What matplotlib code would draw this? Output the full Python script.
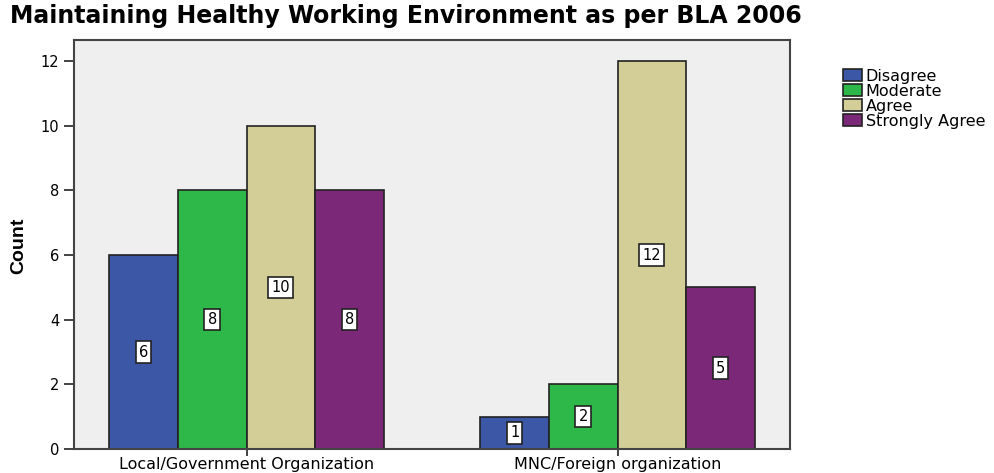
import numpy as np
import matplotlib.pyplot as plt
from matplotlib.patches import Patch

# Counts per organization type and response
groups = ["Local/Government Organization", "MNC/Foreign organization"]
responses = ["Disagree", "Moderate", "Agree", "Strongly Agree"]
disagree = [6, 1]
moderate = [8, 2]
agree = [10, 12]
strongly_agree = [8, 5]

colors = ["#3d57a7", "#2fb84a", "#d3ce98", "#7c2878"]

plt.rcParams['font.family'] = ['DejaVu Sans']

fig = plt.figure(figsize=(9.95, 4.73), dpi=100)
ax = fig.add_axes([0.0744, 0.0507, 0.7196, 0.8647])
ax.set_facecolor("#efefef")

x = np.arange(len(groups))
width = 0.185
series = [disagree, moderate, agree, strongly_agree]
for i, (vals, col) in enumerate(zip(series, colors)):
    pos = x + (i - 1.5) * width
    ax.bar(pos, vals, width, color=col, edgecolor="#222222", linewidth=1.2, zorder=2)
    # value labels boxed at half height
    for px, v in zip(pos, vals):
        ax.text(px, v / 2, str(v), ha="center", va="center", fontsize=10.5, zorder=3,
                bbox=dict(boxstyle="square,pad=0.22", fc="white", ec="#222222", lw=1.2))

ax.set_xlim(-0.465, 1.465)
ax.set_ylim(0, 12.65)
ax.set_yticks([0, 2, 4, 6, 8, 10, 12])
ax.set_xticks(x)
ax.set_xticklabels(groups, fontsize=11.5)
ax.tick_params(axis="y", labelsize=10.5, length=7, width=1.2, color="#222222")
ax.tick_params(axis="x", length=5, width=1.2, color="#222222", pad=1)
for s in ax.spines.values():
    s.set_color("#444444")
    s.set_linewidth(1.5)

fig.text(0.0186, 0.48, "Count", rotation=90, ha="center", va="center",
         fontsize=14, fontweight="bold", family="Liberation Sans")

fig.text(0.01, 0.966, "Maintaining Healthy Working Environment as per BLA 2006",
         ha="left", va="center", fontsize=17, fontweight="bold")

handles = [Patch(facecolor=c, edgecolor="#222222", linewidth=1.2) for c in colors]
fig.legend(handles, responses, loc="upper left", bbox_to_anchor=(0.841, 0.868),
           frameon=False, fontsize=11.5, handlelength=1.2, handleheight=0.8,
           handletextpad=0.2, labelspacing=0.0, borderaxespad=0)

fig.savefig("out.png", dpi=100)
